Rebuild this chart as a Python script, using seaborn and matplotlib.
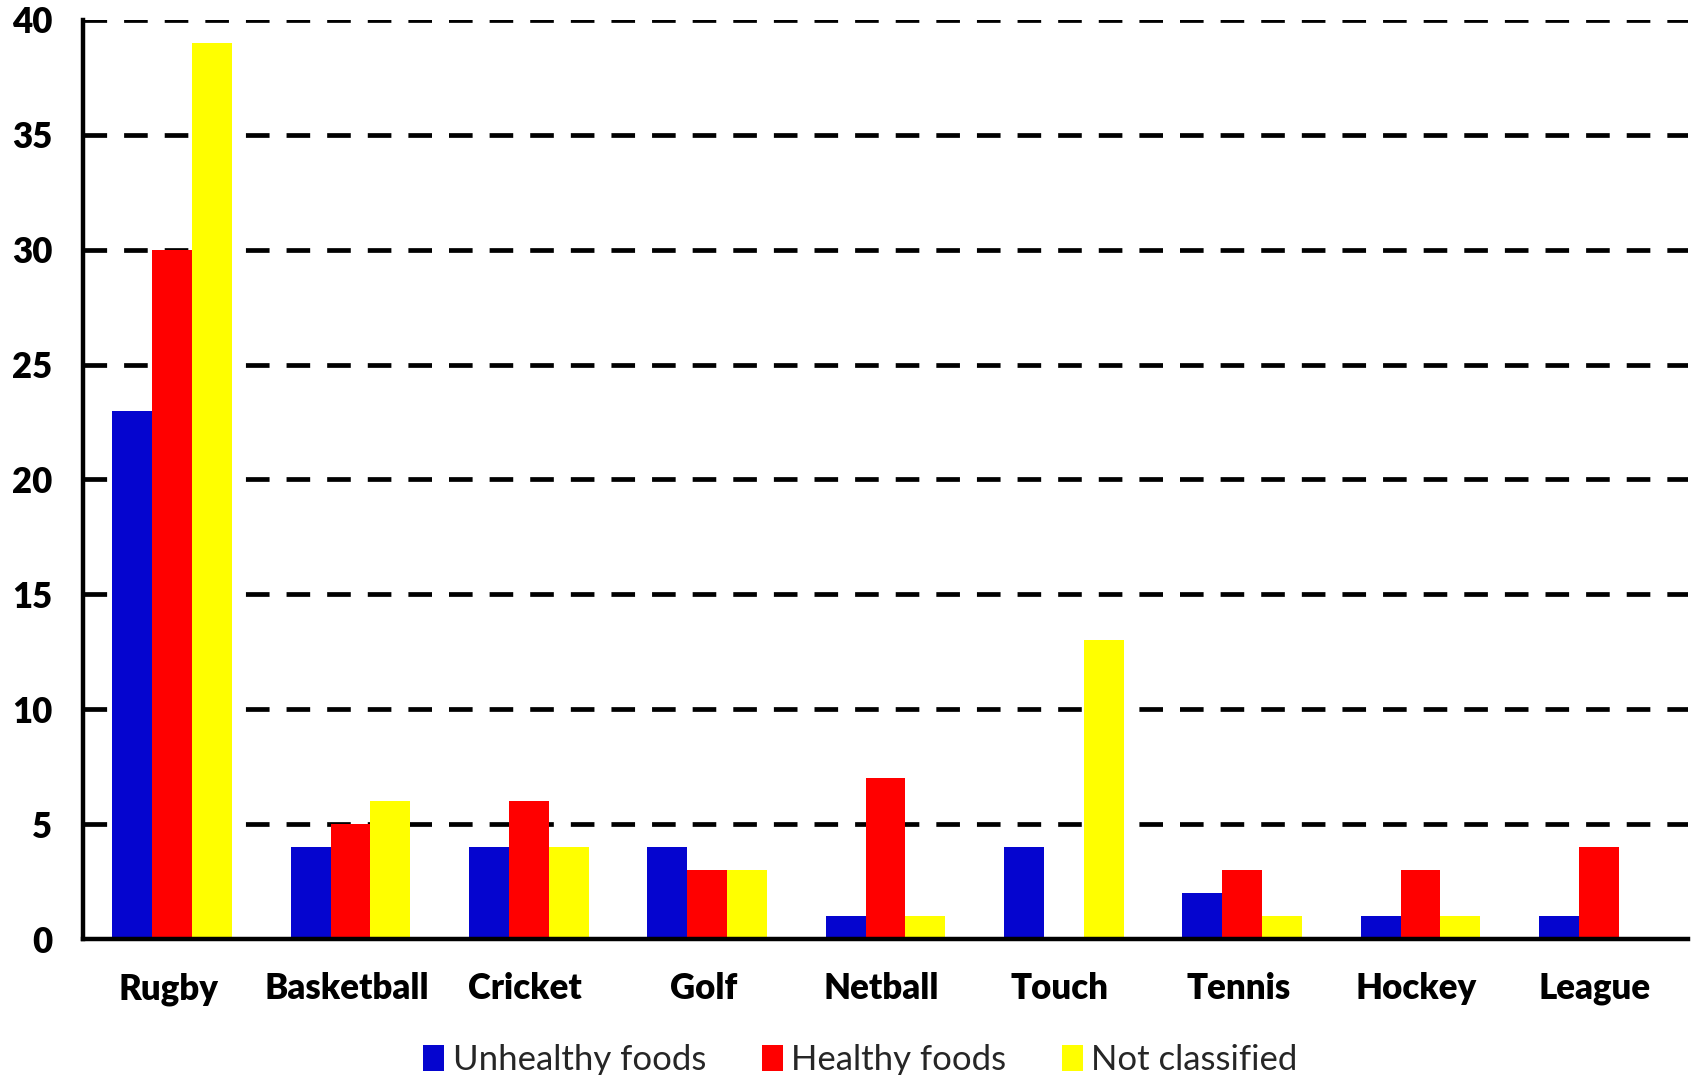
import numpy as np
import pandas as pd
import matplotlib
matplotlib.use("Agg")
import matplotlib.pyplot as plt
import matplotlib.transforms as mtransforms
import seaborn as sns

# Data
sports = ["Rugby", "Basketball", "Cricket", "Golf", "Netball", "Touch", "Tennis", "Hockey", "League"]
unhealthy = [23, 4, 4, 4, 1, 4, 2, 1, 1]
healthy = [30, 5, 6, 3, 7, 0, 3, 3, 4]
not_classified = [39, 6, 4, 3, 1, 13, 1, 1, 0]
series_names = ["Unhealthy foods", "Healthy foods", "Not classified"]
colors = ["#0505CF", "#FF0000", "#FFFF00"]

df = pd.DataFrame({
    "Sport": sports * 3,
    "Count": unhealthy + healthy + not_classified,
    "Series": [series_names[0]] * 9 + [series_names[1]] * 9 + [series_names[2]] * 9,
})

sns.set_style("white")
plt.rcParams["font.family"] = ["Lato", "DejaVu Sans"]

fig = plt.figure(figsize=(16.94, 10.75), dpi=100)
ax = fig.add_axes([0.049, 0.1265, 0.9475, 0.855])

sns.barplot(data=df, x="Sport", y="Count", hue="Series", order=sports,
            hue_order=series_names, palette=colors, width=0.67, gap=0,
            linewidth=0, saturation=1, ax=ax)

ax.set_xlim(-0.5, len(sports) - 0.5)
ax.set_ylim(0, 40)
ax.set_yticks(np.arange(0, 41, 5))
ax.set_xlabel("")
ax.set_ylabel("")

# dashed grid lines
ax.set_axisbelow(True)
for y in range(5, 41, 5):
    ax.axhline(y, color="black", linewidth=3.4, dashes=(5.0, 3.6), zorder=0)

for side in ["top", "right"]:
    ax.spines[side].set_visible(False)
for side in ["left", "bottom"]:
    ax.spines[side].set_color("black")
    ax.spines[side].set_linewidth(3.2)

ax.set_xticks(np.arange(-0.5, len(sports), 1), minor=True)
ax.tick_params(axis="x", which="major", length=0, pad=24)
ax.tick_params(axis="x", which="minor", length=9.5, width=3.2, color="black", direction="out")
ax.tick_params(axis="y", which="major", length=8, width=3.2, color="black", direction="out", pad=14)
shift = mtransforms.ScaledTranslation(-4 / 100, 0, fig.dpi_scale_trans)
for lab in ax.get_xticklabels():
    lab.set_transform(lab.get_transform() + shift)
for lab in ax.get_xticklabels() + ax.get_yticklabels():
    lab.set_fontsize(25)
    lab.set_fontweight("heavy")
    lab.set_color("black")

handles, labels = ax.get_legend_handles_labels()
ax.get_legend().remove()
fig.legend(handles, labels, loc="lower center", bbox_to_anchor=(0.508, -0.03), ncol=3,
           frameon=False, fontsize=25, handlelength=0.6, handleheight=0.8,
           handletextpad=0.25, columnspacing=1.6)

fig.savefig("out.png", dpi=100)
